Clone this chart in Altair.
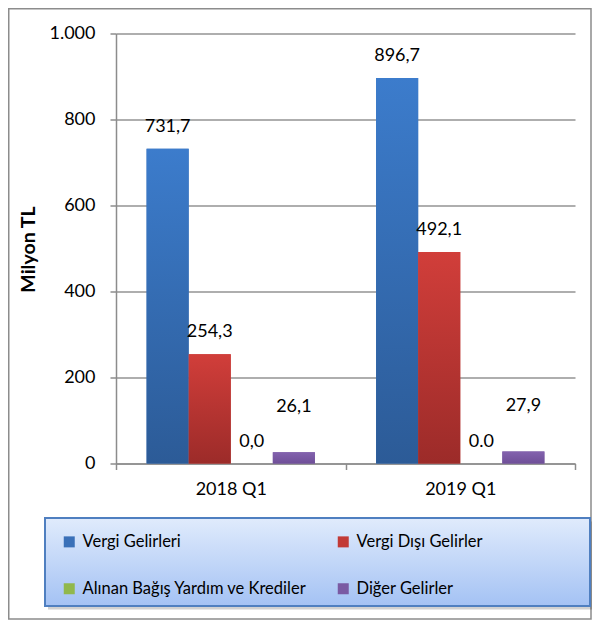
import altair as alt
import pandas as pd

periods = ["2018 Q1", "2019 Q1"]
series = ["Vergi Gelirleri", "Vergi Dışı Gelirler", "Alınan Bağış Yardım ve Krediler", "Diğer Gelirler"]
values_2018 = [731.7, 254.3, 0.0, 26.1]
values_2019 = [896.7, 492.1, 0.0, 27.9]
labels_2018 = ["731,7", "254,3", "0,0", "26,1"]
labels_2019 = ["896,7", "492,1", "0.0", "27,9"]
y_ticks = [0, 200, 400, 600, 800, 1000]

flat_colors = ["#3a70b8", "#c23a36", "#91b84c", "#7a5aa3"]
grad_colors = {
    "Vergi Gelirleri": ("#3c7ccc", "#2c5b97"),
    "Vergi Dışı Gelirler": ("#d13e3a", "#9c2b29"),
    "Diğer Gelirler": ("#8362ae", "#6f4f98"),
}

rows = []
for p, vals, labs in [(periods[0], values_2018, labels_2018), (periods[1], values_2019, labels_2019)]:
    for s, v, l in zip(series, vals, labs):
        rows.append({"period": p, "series": s, "value": v, "label": l})
df = pd.DataFrame(rows)

FONT = "Lato"
W, H = 459, 430

x_enc = alt.X("period:N", sort=periods, title=None,
              scale=alt.Scale(paddingInner=0, paddingOuter=0),
              axis=alt.Axis(labelAngle=0, tickBand="extent", tickSize=6, tickColor="#8c8c8c",
                            domainColor="#8c8c8c", domainWidth=1.5, tickWidth=1.5,
                            labelFont=FONT, labelFontSize=18, labelColor="#000",
                            labelPadding=11, labelBaseline="top"))
xo_enc = alt.XOffset("series:N", sort=series,
                     scale=alt.Scale(domain=series, paddingInner=0, paddingOuter=0.727))
y_enc = alt.Y("value:Q", title="Milyon TL",
              scale=alt.Scale(domain=[0, 1000], nice=False),
              axis=alt.Axis(values=y_ticks, tickSize=6, tickColor="#8c8c8c", tickWidth=1.5,
                            domainColor="#8c8c8c", domainWidth=1.5,
                            gridColor="#939393", gridWidth=1.5,
                            labelFont=FONT, labelFontSize=18, labelColor="#000", labelPadding=15,
                            labelExpr="replace(format(datum.value, ','), ',', '.')",
                            titleFont=FONT, titleFontSize=19.5, titleFontWeight="bold", titleColor="#000",
                            titleAngle=270, titleX=-87.5, titleY=215.5,
                            titleAlign="center", titleBaseline="middle"))

one = pd.DataFrame({"k": [0]})

frame = alt.Chart(one).mark_rect(fillOpacity=0, stroke="#8c8c8c", strokeWidth=1.5).encode(
    x=alt.value(-107.25), x2=alt.value(475), y=alt.value(-24.75), y2=alt.value(585.5))

legend_shadow = alt.Chart(one).mark_rect(fill="#000", opacity=0.18).encode(
    x=alt.value(-68), x2=alt.value(477), y=alt.value(488), y2=alt.value(576))

legend_box = alt.Chart(one).mark_rect(
    fill=alt.Gradient(gradient="linear", x1=0, x2=0, y1=0, y2=1,
                      stops=[alt.GradientStop(offset=0, color="#e0ebfc"),
                             alt.GradientStop(offset=1, color="#a4c2f4")]),
    stroke="#4f7fc0", strokeWidth=2).encode(
    x=alt.value(-71), x2=alt.value(474), y=alt.value(484.5), y2=alt.value(572.5))

base = alt.Chart(df).mark_bar().encode(
    x=x_enc, xOffset=xo_enc, y=y_enc,
    color=alt.Color("series:N", sort=series,
                    scale=alt.Scale(domain=series, range=flat_colors),
                    legend=alt.Legend(orient="none", legendX=-55, legendY=500, columns=2,
                                      direction="horizontal",
                                      title=None, symbolType="square", symbolSize=121,
                                      symbolStrokeWidth=0, labelFont=FONT, labelFontSize=16.5,
                                      labelColor="#000", labelOffset=5, columnPadding=28,
                                      rowPadding=30, padding=0, labelLimit=400, zindex=1)))

grad_layers = []
for s, (top, bot) in grad_colors.items():
    grad_layers.append(
        alt.Chart(df).transform_filter(alt.datum.series == s).mark_bar(
            color=alt.Gradient(gradient="linear", x1=0, x2=0, y1=0, y2=1,
                               stops=[alt.GradientStop(offset=0, color=top),
                                      alt.GradientStop(offset=1, color=bot)])
        ).encode(x=x_enc, xOffset=xo_enc, y=y_enc)
    )

text = alt.Chart(df).transform_calculate(
    label_y="datum.series == 'Diğer Gelirler' ? datum.value + 53.5 : datum.value"
).mark_text(font=FONT, fontSize=18, color="#000", baseline="alphabetic", align="center", dy=-17).encode(
    x=x_enc, xOffset=xo_enc, y=alt.Y("label_y:Q", scale=alt.Scale(domain=[0, 1000], nice=False)),
    text="label:N")

chart = alt.layer(frame, legend_shadow, legend_box, base, *grad_layers, text).properties(
    width=W, height=H,
    autosize=alt.AutoSizeParams(type="none"),
    padding={"left": 108, "top": 25.5, "right": 17, "bottom": 156},
    background="white",
).configure_view(strokeWidth=0)

chart.save("out.html", embed_options={"renderer": "svg", "actions": False})
